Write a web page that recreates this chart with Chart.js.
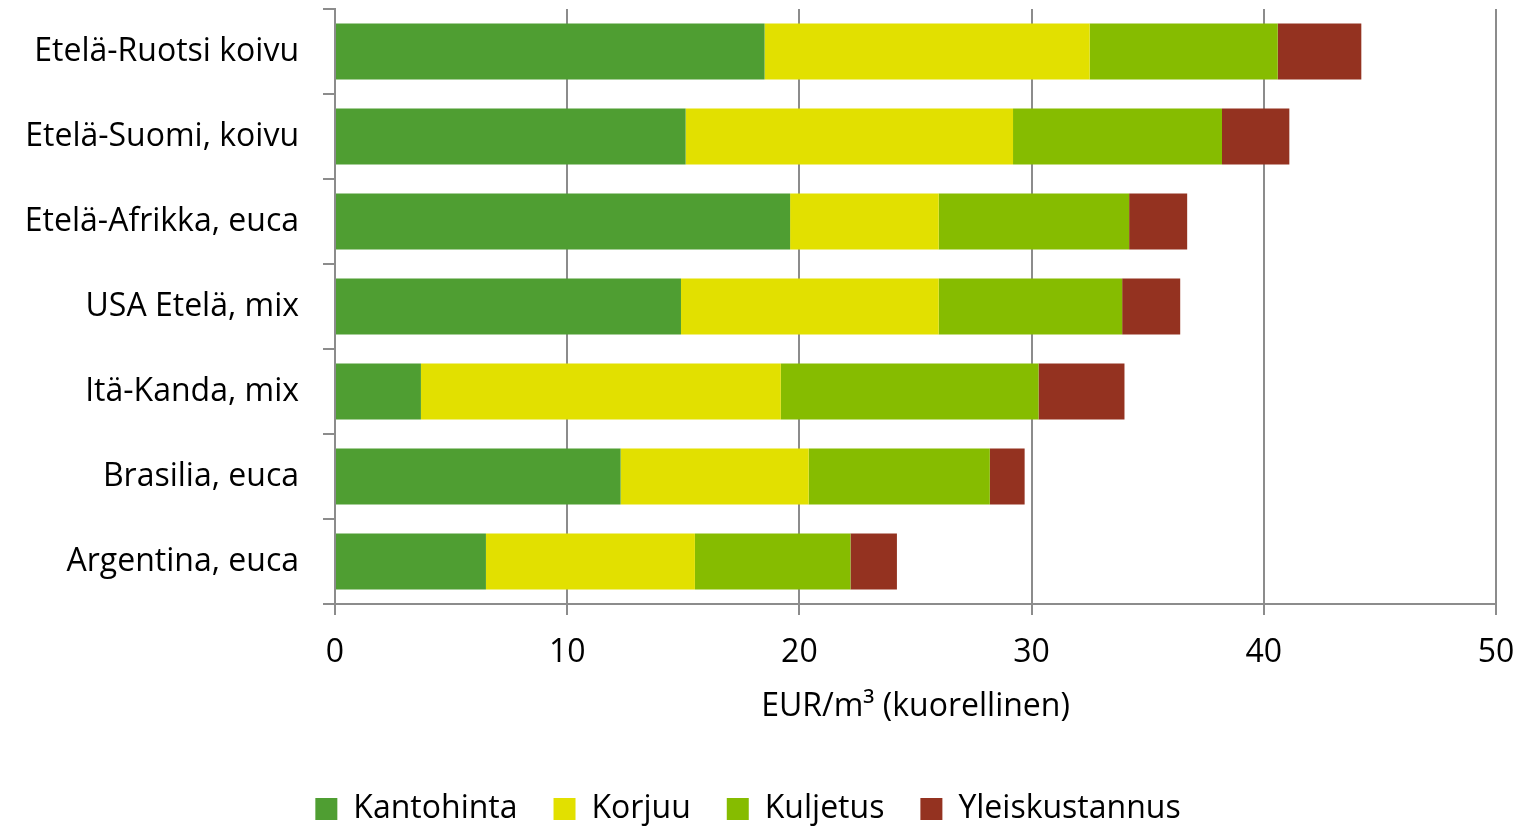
<!DOCTYPE html>
<html>
<head>
<meta charset="utf-8">
<script src="https://cdn.jsdelivr.net/npm/chart.js@4.4.1/dist/chart.umd.min.js"></script>
<style>
  html, body { margin: 0; padding: 0; background: #fff; }
  #wrap { width: 1525px; height: 828px; }
</style>
</head>
<body>
<div id="wrap"><canvas id="costChart" width="1525" height="828"></canvas></div>
<script>
// Categories, top to bottom
const regions = ['Etelä-Ruotsi koivu', 'Etelä-Suomi, koivu', 'Etelä-Afrikka, euca', 'USA Etelä, mix', 'Itä-Kanda, mix', 'Brasilia, euca', 'Argentina, euca'];

// Cost components, EUR/m3
const kantohinta = [18.5, 15.1, 19.6, 14.9, 3.7, 12.3, 6.5];
const korjuu = [14.0, 14.1, 6.4, 11.1, 15.5, 8.1, 9.0];
const kuljetus = [8.1, 9.0, 8.2, 7.9, 11.1, 7.8, 6.7];
const yleiskustannus = [3.6, 2.9, 2.5, 2.5, 3.7, 1.5, 2.0];

const xTicks = [0, 10, 20, 30, 40, 50];

const fontFamily = '"Open Sans", sans-serif';
const fontSize = 32;
const gridColor = '#8c8c8c';

function series(label, data, color) {
  return {
    label: label,
    data: data,
    backgroundColor: color,
    borderWidth: 0,
    barPercentage: 0.82,
    categoryPercentage: 0.8
  };
}

const ctx = document.getElementById('costChart').getContext('2d');
new Chart(ctx, {
  type: 'bar',
  data: {
    labels: regions,
    datasets: [
      series('Kantohinta', kantohinta, '#4f9e32'),
      series('Korjuu', korjuu, '#e2e000'),
      series('Kuljetus', kuljetus, '#86bc00'),
      series('Yleiskustannus', yleiskustannus, '#943220')
    ]
  },
  options: {
    indexAxis: 'y',
    responsive: false,
    animation: false,
    layout: {
      padding: { top: 9, right: 29, left: 0, bottom: -7 }
    },
    plugins: {
      legend: {
        position: 'bottom',
        labels: {
          color: '#000',
          font: { family: fontFamily, size: fontSize },
          boxWidth: 22,
          boxHeight: 22,
          padding: 36
        }
      },
      tooltip: { enabled: false }
    },
    scales: {
      x: {
        stacked: true,
        min: 0,
        max: 50,
        afterBuildTicks: function(scale) {
          scale.ticks = xTicks.map(v => ({ value: v }));
        },
        afterFit: function(scale) {
          scale.height = 153;
          scale.paddingLeft = 0;
          scale.paddingRight = 0;
        },
        grid: {
          color: gridColor,
          lineWidth: 2,
          tickLength: 11
        },
        border: { color: gridColor, width: 2 },
        ticks: {
          color: '#000',
          font: { family: fontFamily, size: fontSize },
          padding: 19,
          maxRotation: 0
        },
        title: {
          display: true,
          text: 'EUR/m³ (kuorellinen)',
          color: '#000',
          font: { family: fontFamily, size: fontSize },
          padding: { top: 4, bottom: 31 }
        }
      },
      y: {
        stacked: true,
        afterFit: function(scale) {
          scale.width = 335;
          scale.paddingTop = 0;
          scale.paddingBottom = 0;
        },
        grid: {
          offset: true,
          drawOnChartArea: false,
          color: gridColor,
          lineWidth: 2,
          tickLength: 12
        },
        border: { color: gridColor, width: 2 },
        ticks: {
          color: '#000',
          font: { family: fontFamily, size: fontSize },
          padding: 24
        }
      }
    }
  }
});
</script>
</body>
</html>
